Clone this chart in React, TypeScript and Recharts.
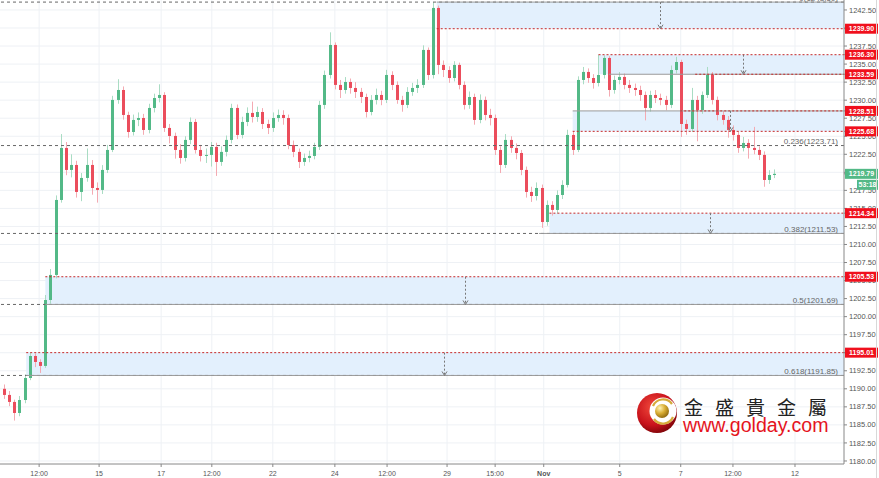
import { ComposedChart, Bar, XAxis, YAxis, CartesianGrid, ReferenceLine, ReferenceArea } from "recharts";

// 4h candles, Oct 12 -> Nov 9
const opens = [1190.00, 1189.15, 1188.18, 1186.65, 1188.45, 1191.50, 1194.55, 1193.72, 1193.17, 1202.31, 1205.78, 1216.17, 1223.38, 1220.33, 1221.02, 1217.28, 1219.22, 1221.02, 1217.83, 1217.56, 1220.33, 1223.10, 1230.03, 1231.41, 1227.95, 1225.59, 1227.26, 1227.53, 1225.87, 1228.92, 1230.30, 1230.72, 1226.15, 1225.04, 1223.10, 1221.99, 1224.49, 1226.98, 1223.10, 1222.27, 1222.41, 1223.52, 1221.44, 1222.83, 1224.49, 1228.92, 1225.18, 1226.98, 1228.23, 1227.67, 1228.36, 1226.70, 1226.15, 1227.53, 1227.95, 1227.53, 1223.79, 1222.83, 1221.44, 1221.99, 1222.27, 1223.52, 1229.34, 1233.49, 1237.65, 1232.11, 1231.41, 1232.52, 1231.69, 1231.14, 1230.44, 1228.36, 1230.03, 1230.72, 1230.03, 1233.49, 1232.11, 1230.03, 1229.34, 1231.14, 1231.69, 1232.11, 1236.96, 1233.49, 1242.78, 1234.88, 1234.18, 1233.07, 1234.88, 1232.11, 1229.34, 1230.44, 1227.26, 1230.03, 1227.95, 1227.53, 1223.10, 1221.02, 1224.49, 1223.38, 1222.68, 1220.33, 1217.28, 1216.72, 1217.83, 1213.12, 1215.48, 1214.79, 1216.86, 1218.25, 1225.18, 1223.10, 1232.80, 1233.91, 1233.07, 1232.38, 1233.49, 1235.85, 1231.41, 1232.80, 1233.22, 1232.11, 1231.69, 1231.41, 1230.72, 1228.92, 1230.72, 1230.30, 1230.03, 1229.34, 1234.18, 1235.29, 1226.70, 1226.01, 1230.03, 1228.64, 1230.72, 1233.49, 1230.03, 1227.95, 1227.26, 1225.87, 1225.18, 1223.38, 1224.07, 1223.38, 1223.10, 1222.41, 1218.94, 1219.63];
const closes = [1189.15, 1188.18, 1186.65, 1188.45, 1191.50, 1194.55, 1193.72, 1193.17, 1202.31, 1205.78, 1216.17, 1223.38, 1220.33, 1221.02, 1217.28, 1219.22, 1221.02, 1217.83, 1217.56, 1220.33, 1223.10, 1230.03, 1231.41, 1227.95, 1225.59, 1227.26, 1227.53, 1225.87, 1228.92, 1230.30, 1230.72, 1226.15, 1225.04, 1223.10, 1221.99, 1224.49, 1226.98, 1223.10, 1222.27, 1222.41, 1223.52, 1221.44, 1222.83, 1224.49, 1228.92, 1225.18, 1226.98, 1228.23, 1227.67, 1228.36, 1226.70, 1226.15, 1227.53, 1227.95, 1227.53, 1223.79, 1222.83, 1221.44, 1221.99, 1222.27, 1223.52, 1229.34, 1233.49, 1237.65, 1232.11, 1231.41, 1232.52, 1231.69, 1231.14, 1230.44, 1228.36, 1230.03, 1230.72, 1230.03, 1233.49, 1232.11, 1230.03, 1229.34, 1231.14, 1231.69, 1232.11, 1236.96, 1233.49, 1242.78, 1234.88, 1234.18, 1233.07, 1234.88, 1232.11, 1229.34, 1230.44, 1227.26, 1230.03, 1227.95, 1227.53, 1223.10, 1221.02, 1224.49, 1223.38, 1222.68, 1220.33, 1217.28, 1216.72, 1217.83, 1213.12, 1215.48, 1214.79, 1216.86, 1218.25, 1225.18, 1223.10, 1232.80, 1233.91, 1233.07, 1232.38, 1233.49, 1235.85, 1231.41, 1232.80, 1233.22, 1232.11, 1231.69, 1231.41, 1230.72, 1228.92, 1230.72, 1230.30, 1230.03, 1229.34, 1234.18, 1235.29, 1226.70, 1226.01, 1230.03, 1228.64, 1230.72, 1233.49, 1230.03, 1227.95, 1227.26, 1225.87, 1225.18, 1223.38, 1224.07, 1223.38, 1223.10, 1222.41, 1218.94, 1219.63, 1219.79];
const highs = [1190.6, 1189.7, 1188.5, 1189.0, 1192.0, 1195.01, 1194.9, 1194.1, 1203.0, 1206.6, 1216.8, 1225.3, 1224.2, 1222.5, 1221.6, 1219.9, 1223.3, 1221.7, 1218.6, 1221.0, 1223.8, 1230.6, 1232.9, 1231.9, 1228.4, 1228.0, 1228.3, 1228.1, 1229.5, 1230.9, 1232.2, 1231.1, 1226.7, 1225.5, 1223.9, 1225.0, 1227.6, 1227.4, 1223.8, 1223.3, 1224.2, 1224.1, 1223.6, 1225.1, 1229.5, 1229.4, 1227.7, 1229.0, 1229.8, 1229.1, 1228.9, 1227.3, 1228.3, 1228.7, 1228.6, 1228.0, 1224.4, 1223.3, 1222.6, 1223.0, 1224.1, 1229.9, 1234.1, 1239.4, 1238.0, 1232.8, 1233.2, 1233.0, 1232.5, 1231.7, 1230.9, 1230.7, 1231.6, 1231.3, 1234.2, 1234.0, 1232.6, 1230.6, 1231.8, 1232.4, 1232.9, 1237.6, 1237.3, 1243.59, 1243.1, 1235.5, 1234.7, 1235.4, 1235.2, 1232.6, 1231.2, 1230.9, 1230.8, 1230.5, 1228.8, 1228.0, 1223.6, 1225.3, 1225.0, 1224.0, 1223.1, 1220.8, 1218.0, 1218.6, 1218.3, 1216.1, 1216.0, 1217.5, 1218.9, 1225.9, 1225.7, 1233.3, 1234.6, 1234.4, 1233.6, 1236.3, 1236.2, 1236.1, 1233.4, 1233.9, 1233.7, 1232.8, 1232.3, 1232.0, 1231.2, 1231.3, 1231.4, 1230.9, 1230.6, 1234.8, 1236.0, 1235.6, 1227.3, 1231.7, 1230.6, 1231.2, 1234.6, 1233.9, 1230.5, 1228.5, 1227.8, 1226.5, 1225.7, 1224.9, 1224.6, 1226.3, 1223.6, 1222.9, 1220.3, 1220.4];
const lows = [1188.6, 1187.6, 1185.6, 1186.2, 1188.0, 1191.2, 1193.0, 1192.2, 1192.9, 1201.8, 1205.3, 1215.8, 1219.6, 1219.3, 1216.5, 1216.0, 1218.7, 1216.9, 1215.8, 1217.0, 1219.9, 1222.8, 1229.5, 1227.3, 1224.8, 1225.1, 1226.4, 1225.2, 1225.4, 1228.3, 1229.7, 1225.6, 1224.0, 1221.9, 1221.2, 1221.5, 1223.9, 1222.6, 1221.5, 1221.3, 1220.8, 1219.5, 1220.9, 1222.2, 1224.0, 1224.6, 1224.7, 1226.4, 1226.9, 1227.0, 1226.0, 1225.3, 1225.6, 1227.0, 1226.6, 1223.2, 1222.1, 1220.6, 1220.9, 1221.4, 1221.8, 1223.1, 1228.8, 1233.0, 1231.5, 1230.3, 1230.9, 1230.9, 1230.3, 1229.6, 1227.6, 1227.9, 1229.4, 1229.3, 1229.6, 1231.4, 1229.5, 1228.4, 1228.9, 1230.6, 1231.0, 1231.7, 1232.8, 1233.0, 1233.6, 1233.2, 1232.4, 1232.6, 1231.5, 1228.7, 1228.8, 1226.6, 1226.8, 1227.2, 1226.5, 1222.4, 1219.9, 1220.6, 1222.7, 1221.8, 1219.6, 1216.5, 1215.9, 1216.1, 1212.3, 1212.6, 1214.0, 1214.3, 1216.3, 1217.9, 1222.4, 1222.8, 1232.2, 1232.4, 1231.6, 1231.9, 1233.0, 1230.5, 1230.9, 1232.2, 1231.5, 1231.0, 1230.6, 1229.9, 1227.2, 1228.4, 1229.6, 1229.3, 1228.6, 1228.9, 1233.7, 1224.9, 1225.2, 1225.6, 1224.3, 1228.1, 1230.3, 1229.4, 1227.2, 1226.6, 1224.8, 1224.4, 1222.7, 1222.9, 1221.9, 1222.5, 1221.7, 1218.0, 1218.4, 1219.2];

// x-axis labels at candle index
const xTickAt = [6.8, 18.4, 30.4, 40.2, 52, 64, 74.1, 85.7, 95, 104.4, 119.1, 130.9, 141, 153];
const xTickText = ["12:00", "15", "17", "12:00", "22", "24", "12:00", "29", "15:00", "Nov", "5", "7", "12:00", "12"];

const yTicks = [1180, 1182.5, 1185, 1187.5, 1190, 1192.5, 1195, 1197.5, 1200, 1202.5, 1205, 1207.5, 1210, 1212.5, 1215, 1217.5, 1220, 1222.5, 1225, 1227.5, 1230, 1232.5, 1235, 1237.5, 1240, 1242.5];

// fibonacci retracement
const fibRatio = ["0", "0.236", "0.382", "0.5", "0.618"];
const fibLevel = [1243.59, 1223.71, 1211.53, 1201.69, 1191.85];

// shaded zones (start index, top, bottom, arrow index)
const zoneFrom = [83.7, 115, 110, 105.5, 8, 4.3];
const zoneTop = [1243.59, 1236.30, 1228.51, 1214.34, 1205.53, 1195.01];
const zoneBottom = [1239.90, 1233.59, 1225.68, 1211.53, 1201.69, 1191.85];
const zoneArrow = [126.9, 143, 140.4, 136.6, 89.2, 85.1];

// red dotted levels with price tags
const redLevel = [1239.90, 1236.30, 1233.59, 1228.51, 1225.68, 1214.34, 1205.53, 1195.01];
const redFrom = [83.7, 115, 133.7, 130.8, 110, 105.5, 8, 4.3];
// plain grey edges
const greyLevel = [1243.59, 1233.59, 1228.51, 1211.53, 1201.69, 1191.85];
const greyFrom = [83.7, 117, 110, 103.5, 8, 4.3];

const lastPrice = 1219.79;
const countdown = "53:18";

const X_MIN = -0.77;
const X_MAX = 162.48;
const UP = "#53b987";
const DOWN = "#eb4d5c";
const FONT = "'Liberation Sans', Arial, sans-serif";

const rows = closes.map((c, i) => ({
  i,
  o: opens[i],
  c,
  h: highs[i],
  l: lows[i],
  range: [lows[i], highs[i]],
}));

// tag values come last so they are painted over the ordinary tick labels
const axisTicks = [...yTicks, ...redLevel, lastPrice];

function Candle(props: any) {
  const { x, y, width, height, payload } = props;
  if (x == null || !payload) return null;
  const top = height >= 0 ? y : y + height;
  const hh = Math.abs(height);
  const { o, c, h, l } = payload;
  const k = h === l ? 0 : hh / (h - l);
  const yo = top + (h - o) * k;
  const yc = top + (h - c) * k;
  const up = c >= o;
  const cx = Math.round(x + width / 2) + 0.5;
  const bt = Math.min(yo, yc);
  const bh = Math.max(1, Math.abs(yo - yc));
  return (
    <g>
      <line x1={cx} x2={cx} y1={top} y2={top + hh} stroke={up ? "#a9dcc3" : "#f4aab2"} strokeWidth={1} />
      <rect x={cx - 1.5} y={bt} width={3} height={bh} fill={up ? UP : DOWN} />
    </g>
  );
}

function Arrow(props: any) {
  const { x1, y1, x2, y2 } = props;
  if (x1 == null) return null;
  const x = Math.round(x1) + 0.5;
  return (
    <g>
      <line x1={x} x2={x} y1={y1} y2={y2 - 1} stroke="#777" strokeWidth={1} strokeDasharray="2 2" />
      <path d={`M${x - 2.5},${y2 - 4}L${x},${y2}L${x + 2.5},${y2 - 4}`} fill="none" stroke="#777" strokeWidth={1} />
    </g>
  );
}

function box(x: number, y: number, w: number, text: string, bg: string) {
  return (
    <g>
      <rect x={x} y={y - 5} width={w} height={10} fill={bg} />
      <text x={x + w / 2} y={y + 2.6} textAnchor="middle" fill="#fff" fontSize={7} fontWeight="bold" fontFamily={FONT}>
        {text}
      </text>
    </g>
  );
}

function YTick(props: any) {
  const { x, y, payload, index } = props;
  const v = payload.value;
  const left = x - 4;
  if (index >= yTicks.length) {
    if (v === lastPrice) {
      return (
        <g>
          {box(left, y, 33, v.toFixed(2), UP)}
          {box(left + 12, y + 11, 21, countdown, UP)}
        </g>
      );
    }
    return box(left, y, 33, v.toFixed(2), "#f0101d");
  }
  return (
    <text x={x} y={y + 2.6} textAnchor="start" fill="#555" fontSize={7.5} fontFamily={FONT}>
      {v.toFixed(2)}
    </text>
  );
}

const fibText = (text: string) => (p: any) => {
  const vb = p.viewBox;
  if (!vb) return null;
  return (
    <text x={vb.x + vb.width - 6} y={vb.y - 1.5} textAnchor="end" fill="#666" fontSize={8} fontFamily={FONT}>
      {text}
    </text>
  );
};

function XTick(props: any) {
  const { x, y, payload } = props;
  const k = xTickAt.indexOf(payload.value);
  const t = k >= 0 ? xTickText[k] : "";
  return (
    <text x={x} y={y + 7} textAnchor="middle" fill="#555" fontSize={7} fontWeight={t === "Nov" ? "bold" : "normal"} fontFamily={FONT}>
      {t}
    </text>
  );
}

function Logo() {
  return (
    <div style={{ position: "absolute", left: 636, top: 390, width: 200, height: 48, pointerEvents: "none" }}>
      <svg width={46} height={46} style={{ position: "absolute", left: 0, top: 0 }}>
        <defs>
          <radialGradient id="lg-red" cx="40%" cy="35%" r="70%">
            <stop offset="0" stopColor="#f24a3c" />
            <stop offset="0.65" stopColor="#c8121b" />
            <stop offset="1" stopColor="#780407" />
          </radialGradient>
          <radialGradient id="lg-gold" cx="35%" cy="30%" r="75%">
            <stop offset="0" stopColor="#fff4b8" />
            <stop offset="0.5" stopColor="#d9ae35" />
            <stop offset="1" stopColor="#8c6710" />
          </radialGradient>
        </defs>
        <circle cx={21} cy={23} r={20} fill="url(#lg-red)" />
        <circle cx={27} cy={21} r={13.5} fill="#fff" />
        <path d="M17,16 A11,11 0 0 1 36,14" fill="none" stroke="#d6ab3a" strokeWidth={2.2} />
        <path d="M18,29 A11,11 0 0 0 37,27" fill="none" stroke="#d6ab3a" strokeWidth={2.2} />
        <circle cx={26} cy={21} r={7} fill="url(#lg-gold)" />
      </svg>
      <div style={{ position: "absolute", left: 48, top: 6, fontFamily: "'Noto Sans CJK TC', sans-serif", fontSize: 19, lineHeight: "22px", color: "#222", letterSpacing: 12, whiteSpace: "nowrap" }}>
        金盛貴金屬
      </div>
      <div style={{ position: "absolute", left: 47, top: 24, fontFamily: FONT, fontSize: 19.6, lineHeight: "22px", color: "#e5141d", whiteSpace: "nowrap" }}>
        www.golday.com
      </div>
    </div>
  );
}

export default function App() {
  return (
    <div style={{ position: "absolute", left: 0, top: 0, width: 879, height: 478, background: "#fff", overflow: "hidden" }}>
      <ComposedChart width={879} height={478} data={rows} margin={{ top: 0, right: 0, bottom: 0, left: 0 }}>
        <CartesianGrid stroke="#eef1f5" horizontalValues={yTicks} verticalValues={xTickAt} />
        <XAxis
          dataKey="i"
          type="number"
          domain={[X_MIN, X_MAX]}
          allowDataOverflow
          ticks={xTickAt}
          interval={0}
          height={14}
          tick={<XTick />}
          tickLine={{ stroke: "#888" }}
          tickSize={3}
          axisLine={{ stroke: "#888" }}
        />
        <YAxis
          orientation="right"
          type="number"
          domain={[1179.58, 1243.88]}
          allowDataOverflow
          ticks={axisTicks}
          interval={0}
          width={35}
          tickSize={3}
          tick={<YTick />}
          tickLine={{ stroke: "#888" }}
          axisLine={{ stroke: "#888" }}
        />
        {zoneFrom.map((f, k) => (
          <ReferenceArea key={"z" + k} x1={f} x2={X_MAX} y1={zoneBottom[k]} y2={zoneTop[k]} fill="#e3f0fd" fillOpacity={1} stroke="none" ifOverflow="visible" />
        ))}
        {fibLevel.map((v, k) => (
          <ReferenceLine key={"f" + k} y={v} stroke="#666" strokeDasharray="3 3" label={fibText(`${fibRatio[k]}(${v.toFixed(2)})`)} />
        ))}
        {greyLevel.map((v, k) => (
          <ReferenceLine key={"g" + k} segment={[{ x: greyFrom[k], y: v }, { x: X_MAX, y: v }]} stroke="#9a9a9a" strokeWidth={1} ifOverflow="visible" />
        ))}
        {redLevel.map((v, k) => (
          <ReferenceLine key={"r" + k} segment={[{ x: redFrom[k], y: v }, { x: X_MAX, y: v }]} stroke="#c62828" strokeWidth={1} strokeDasharray="2 2" ifOverflow="visible" />
        ))}
        {zoneArrow.map((a, k) => (
          <ReferenceLine key={"a" + k} segment={[{ x: a, y: zoneTop[k] }, { x: a, y: zoneBottom[k] }]} shape={<Arrow />} ifOverflow="visible" />
        ))}
        <Bar dataKey="range" barSize={3} shape={<Candle />} isAnimationActive={false} />
      </ComposedChart>
      <div style={{ position: "absolute", left: 876, top: 0, width: 1, height: 478, background: "#d8d8d8" }} />
      <Logo />
    </div>
  );
}
